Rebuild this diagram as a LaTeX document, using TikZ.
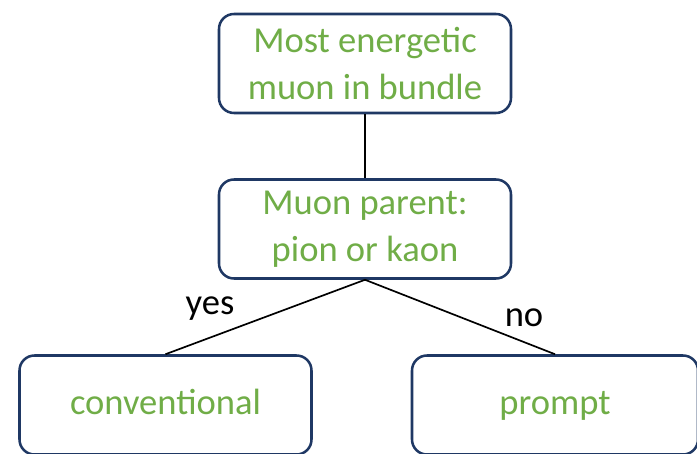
\documentclass[tikz,border=0pt]{standalone}
\usepackage{fontspec}
\setmainfont{Carlito}
\definecolor{boxline}{HTML}{1F3864}
\definecolor{leafgreen}{HTML}{70AD47}
\begin{document}
\begin{tikzpicture}[every node/.style={font=\fontsize{26}{33.5}\selectfont},
    cutbox/.style={draw=boxline, line width=1.8pt, rounded corners=0.375cm, text=leafgreen,
      align=center, inner sep=0pt, minimum width=7.3cm, minimum height=2.475cm}]
    \clip (0,0) rectangle (17.425,-11.35);

    \node[cutbox] (top) at (9.125,-1.5875) {Most energetic\\muon in bundle};

    \node[cutbox] (parent) at (9.125,-5.725) {Muon parent:\\pion or kaon};
    \draw[line width=1.2pt] (top) -- (parent);

    \node[cutbox] (conv) at (4.1375,-10.125) {\strut conventional};
    \draw[line width=1.2pt] (parent.south) -- (conv.north);

    \node[cutbox, minimum width=7.15cm] (prompt) at (13.875,-10.125) {\strut prompt};
    \draw[line width=1.2pt] (parent.south) -- (prompt.north);

    \node (yes) at (5.25,-7.72) {yes};
    \node (no) at (13.1,-7.95) {no};
  \end{tikzpicture}
\end{document}
